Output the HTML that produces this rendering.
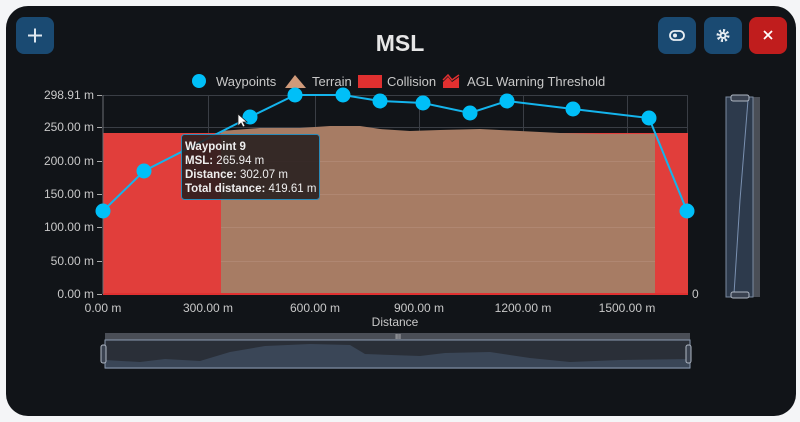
<!DOCTYPE html>
<html><head><style>
html,body{margin:0;padding:0;width:800px;height:422px;background:#f4f5f7;overflow:hidden}
svg{display:block;font-family:"Liberation Sans",sans-serif}
</style></head><body>
<svg width="800" height="422" viewBox="0 0 800 422">
<rect x="6" y="6" width="790" height="410" rx="22" fill="#111418"/>
<!-- buttons -->
<rect x="16" y="17" width="38" height="37" rx="8" fill="#1a4a72"/>
<g stroke="#dfe8f0" stroke-width="2"><line x1="28" y1="35.5" x2="42" y2="35.5"/><line x1="35" y1="28.5" x2="35" y2="42.5"/></g>
<rect x="658" y="17" width="38" height="37" rx="8" fill="#1a4a72"/>
<rect x="670" y="31" width="14" height="9" rx="4.5" fill="none" stroke="#e8eef3" stroke-width="1.8"/><circle cx="675" cy="35.5" r="2" fill="#e8eef3"/>
<rect x="704" y="17" width="38" height="37" rx="8" fill="#1a4a72"/>
<circle cx="723" cy="35.5" r="5" fill="none" stroke="#e8eef3" stroke-width="3" stroke-dasharray="2 1.9"/><circle cx="723" cy="35.5" r="3.5" fill="#e8eef3"/><circle cx="723" cy="35.5" r="1.5" fill="#1a4a72"/>
<rect x="749" y="17" width="38" height="37" rx="8" fill="#c01d1d"/>
<g stroke="#fff" stroke-width="1.8"><line x1="764" y1="31" x2="772" y2="39"/><line x1="772" y1="31" x2="764" y2="39"/></g>
<text x="400" y="51" text-anchor="middle" font-size="23" font-weight="bold" fill="#e6e6e6">MSL</text>
<!-- legend -->
<g font-size="13" fill="#c8c8c8">
<circle cx="199" cy="81" r="7" fill="#00bff8"/><text x="216" y="86">Waypoints</text>
<polygon points="285,88 295,75 306,88" fill="#d09a7a"/><text x="312" y="86">Terrain</text>
<rect x="358" y="75" width="24" height="13" fill="#e03030"/><text x="387" y="86">Collision</text>
<polygon points="443,88 443,82 448,77 452,82 459,77 459,88" fill="#e03030"/><polyline points="443,80 448,75 452,80 459,75" fill="none" stroke="#e03030" stroke-width="1.5"/><text x="467" y="86">AGL Warning Threshold</text>
</g>
<!-- grid -->
<g stroke="#3a3e45" stroke-width="1">
<line x1="103" y1="95.5" x2="688" y2="95.5"/><line x1="103" y1="127.5" x2="688" y2="127.5"/>
<line x1="208.5" y1="95" x2="208.5" y2="294"/><line x1="315.5" y1="95" x2="315.5" y2="294"/><line x1="419.5" y1="95" x2="419.5" y2="294"/><line x1="523.5" y1="95" x2="523.5" y2="294"/><line x1="627.5" y1="95" x2="627.5" y2="294"/><line x1="687.5" y1="95" x2="687.5" y2="294"/>
</g>
<!-- collision & terrain -->
<rect x="103" y="133" width="585" height="161" fill="#e13e3b"/>
<path d="M221,131 L260,128 L300,128 L330,126 L360,126 L380,129 L410,131 L440,130 L480,129 L520,131 L560,133 L600,134 L655,134 L655,294 L221,294 Z" fill="#a77c64"/>
<g stroke="#b58d78" stroke-width="1" opacity="0.7">
<line x1="221" y1="161.5" x2="655" y2="161.5"/><line x1="221" y1="194.5" x2="655" y2="194.5"/><line x1="221" y1="227.5" x2="655" y2="227.5"/><line x1="221" y1="261.5" x2="655" y2="261.5"/>
</g>
<line x1="103" y1="294" x2="688" y2="294" stroke="#e03030" stroke-width="2"/>
<line x1="103" y1="95" x2="103" y2="294" stroke="#6a6e75"/>
<!-- y axis labels -->
<g font-size="12" fill="#c8c8c8" text-anchor="end">
<text x="94" y="99">298.91 m</text><text x="94" y="131">250.00 m</text><text x="94" y="165">200.00 m</text><text x="94" y="198">150.00 m</text><text x="94" y="231">100.00 m</text><text x="94" y="265">50.00 m</text><text x="94" y="298">0.00 m</text>
</g>
<g stroke="#aaa"><line x1="97" y1="95.5" x2="102" y2="95.5"/><line x1="97" y1="127.5" x2="102" y2="127.5"/><line x1="97" y1="161.5" x2="102" y2="161.5"/><line x1="97" y1="194.5" x2="102" y2="194.5"/><line x1="97" y1="227.5" x2="102" y2="227.5"/><line x1="97" y1="261.5" x2="102" y2="261.5"/><line x1="97" y1="294.5" x2="102" y2="294.5"/></g>
<g font-size="12" fill="#c8c8c8" text-anchor="middle">
<text x="103" y="312">0.00 m</text><text x="208" y="312">300.00 m</text><text x="315" y="312">600.00 m</text><text x="419" y="312">900.00 m</text><text x="523" y="312">1200.00 m</text><text x="627" y="312">1500.00 m</text>
<text x="395" y="326">Distance</text>
</g>
<text x="692" y="298" font-size="12" fill="#c8c8c8">0</text>
<!-- waypoints -->
<polyline points="103,211 144,171 250,117 295,95 343,95 380,101 423,103 470,113 507,101 573,109 649,118 687,211" fill="none" stroke="#14b4ec" stroke-width="2"/>
<g fill="#00bff8">
<circle cx="103" cy="211" r="7.5"/><circle cx="144" cy="171" r="7.5"/><circle cx="250" cy="117" r="7.5"/><circle cx="295" cy="95" r="7.5"/><circle cx="343" cy="95" r="7.5"/><circle cx="380" cy="101" r="7.5"/><circle cx="423" cy="103" r="7.5"/><circle cx="470" cy="113" r="7.5"/><circle cx="507" cy="101" r="7.5"/><circle cx="573" cy="109" r="7.5"/><circle cx="649" cy="118" r="7.5"/><circle cx="687" cy="211" r="7.5"/>
</g>
<!-- tooltip -->
<rect x="181.5" y="134.5" width="138" height="65" rx="3" fill="rgba(38,30,30,0.88)" stroke="#2a8ab8"/>
<g font-size="11.5" fill="#eee">
<text x="185" y="150" font-weight="bold">Waypoint 9</text>
<text x="185" y="164"><tspan font-weight="bold">MSL:</tspan> 265.94 m</text>
<text x="185" y="178"><tspan font-weight="bold">Distance:</tspan> 302.07 m</text>
<text x="185" y="192"><tspan font-weight="bold">Total distance:</tspan> 419.61 m</text>
</g>
<path d="M238,114 l0,12 l3,-3 l2,4 l2,-1 l-2,-4 l4,0 z" fill="#fff" stroke="#222" stroke-width="0.8"/>
<!-- right slider -->
<rect x="726" y="97" width="34" height="200" fill="#2a2f38"/>
<rect x="753" y="97" width="7" height="200" fill="#4a4e56"/>
<rect x="726" y="97" width="27" height="200" fill="#2d3a4c" stroke="#7a8aa0"/>
<path d="M748,100 L740,200 L734,294" fill="none" stroke="#7a90b0"/>
<rect x="731" y="95" width="18" height="6" rx="2" fill="#3a4250" stroke="#b0b8c4"/>
<rect x="731" y="292" width="18" height="6" rx="2" fill="#3a4250" stroke="#b0b8c4"/>
<!-- bottom slider -->
<rect x="105" y="333" width="585" height="36" fill="#2a2f38"/>
<rect x="105" y="333" width="585" height="7" fill="#4a4e56"/>
<path d="M105,360 L140,362 L165,359 L200,361 L230,352 L265,346 L310,344 L350,345 L365,354 L420,356 L445,353 L490,352 L530,358 L570,362 L620,360 L690,359 L690,368 L105,368 Z" fill="#3a4657"/>
<rect x="105" y="340" width="585" height="28" fill="none" stroke="#8a9ab0"/>
<rect x="101" y="345" width="5" height="18" rx="2" fill="#3a4250" stroke="#b0b8c4"/>
<rect x="686" y="345" width="5" height="18" rx="2" fill="#3a4250" stroke="#b0b8c4"/>
<text x="398" y="339" font-size="7" fill="#ddd" text-anchor="middle">III</text>
</svg>
</body></html>
